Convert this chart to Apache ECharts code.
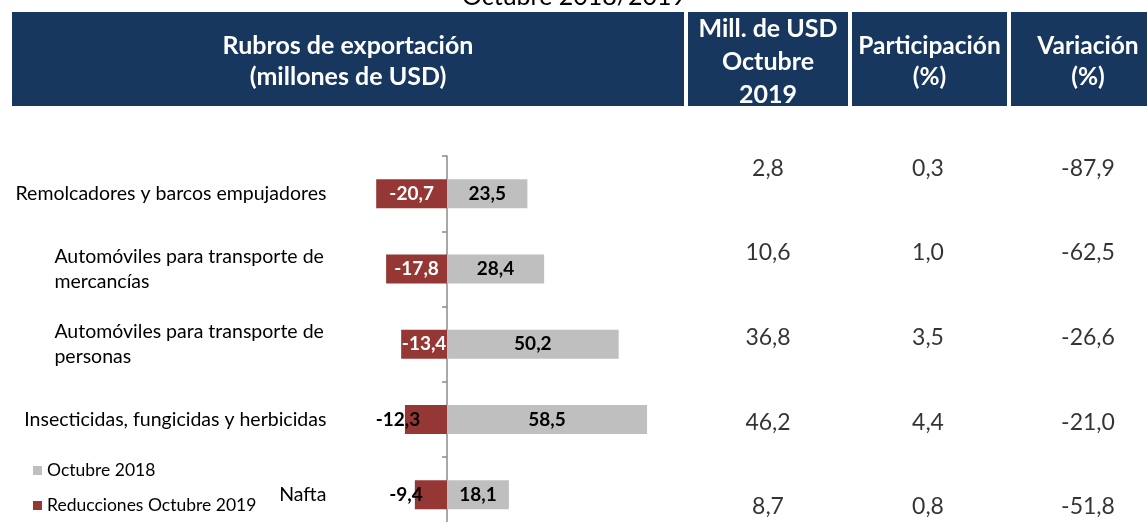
<!DOCTYPE html>
<html><head><meta charset="utf-8">
<script src="https://cdn.jsdelivr.net/npm/echarts@6/dist/echarts.min.js"></script>
<style>html,body{margin:0;padding:0;background:#fff}#c{width:1147px;height:522px}</style>
</head><body><div id="c"></div>
<script>
const titleText = "Octubre 2018/2019";
const headerMain = "Rubros de exportación\n(millones de USD)";
const tableColumns = ["Mill. de USD\nOctubre\n2019", "Participación\n(%)", "Variación\n(%)"];
const categories = [
  "Remolcadores y barcos empujadores",
  "Automóviles para transporte de\nmercancías",
  "Automóviles para transporte de\npersonas",
  "Insecticidas, fungicidas y herbicidas",
  "Nafta"
];
const octubre2018 = [23.5, 28.4, 50.2, 58.5, 18.1];
const reducciones2019 = [-20.7, -17.8, -13.4, -12.3, -9.4];
const usdOct2019 = [2.8, 10.6, 36.8, 46.2, 8.7];
const participacion = [0.3, 1.0, 3.5, 4.4, 0.8];
const variacion = [-87.9, -62.5, -26.6, -21.0, -51.8];
const legendNames = ["Octubre 2018", "Reducciones Octubre 2019"];

const FONT = "Lato, 'Open Sans', sans-serif";
const NAVY = "#17375e";
const RED = "#953735";
const GRAY = "#bfbfbf";
const fmt = v => v.toFixed(1).replace('.', ',');

// styling for red labels that sit outside the short bars
const redLabelStyle = {
  3: { color: '#000', offset: [-28, 0] },
  4: { color: '#000', offset: [-25, 0] }
};

const chart = echarts.init(document.getElementById('c'), null, { renderer: 'canvas' });

const tableColumnsValues = [usdOct2019, participacion, variacion];
const tableData = [];
tableColumnsValues.forEach((arr, c) => arr.forEach((v, r) => tableData.push([c, r, v])));

const headerBoxes = [
  { x: 12, w: 672, text: headerMain, cy: 61, lh: 31, fs: 25 },
  { x: 688, w: 160, text: tableColumns[0], cy: 62, lh: 33, fs: 25 },
  { x: 852, w: 155, text: tableColumns[1], cy: 62, lh: 31, fs: 24.5 },
  { x: 1011, w: 160, text: tableColumns[2], cy: 62, lh: 31, cx: 1088, fs: 24.5 }
];
const graphics = [{
  type: 'text', x: 574, y: -3, z: 1,
  style: { text: titleText, fill: '#000', font: "25px " + FONT, align: 'center', verticalAlign: 'middle' }
}];
headerBoxes.forEach(b => {
  graphics.push({ type: 'rect', z: 2, shape: { x: b.x, y: 12, width: b.w, height: 94 }, style: { fill: NAVY } });
  graphics.push({
    type: 'text', z: 3, x: b.cx || (b.x + b.w / 2), y: b.cy,
    style: { text: b.text, fill: '#fff', font: "bold " + b.fs + "px " + FONT, align: 'center', verticalAlign: 'middle', lineHeight: b.lh }
  });
});

chart.setOption({
  animation: false,
  graphic: graphics,
  legend: {
    data: legendNames, orient: 'vertical', left: 33, top: 461,
    itemWidth: 9, itemHeight: 9, itemGap: 16, padding: 0, icon: 'rect',
    textStyle: { fontSize: 17.5, fontFamily: FONT, color: '#000', lineHeight: 19 }
  },
  grid: [
    { left: 344.4, width: 307.8, top: 156, height: 376.5, outerBoundsMode: 'none', containLabel: false },
    { left: 688, width: 480, top: 126, height: 423, outerBoundsMode: 'none', containLabel: false }
  ],
  xAxis: [
    { type: 'value', gridIndex: 0, min: -30, max: 60, show: false },
    { type: 'category', gridIndex: 1, data: tableColumns, show: false }
  ],
  yAxis: [
    {
      type: 'category', gridIndex: 0, data: categories, inverse: true,
      axisLine: { show: true, onZero: true, lineStyle: { color: '#8c8c8c', width: 1.5 } },
      axisTick: { show: true, length: 5, lineStyle: { color: '#8c8c8c', width: 1.5 } },
      splitLine: { show: false },
      axisLabel: {
        margin: 18, color: '#000', fontSize: 19.5, fontFamily: FONT,
        formatter: v => v.indexOf('\n') >= 0
          ? v.split('\n').map(l => '{m|' + l + '}').join('\n')
          : '{s|' + v + '}',
        rich: {
          m: { width: 272, align: 'left', fontSize: 19.5, fontFamily: FONT, color: '#000', lineHeight: 25 },
          s: { fontSize: 19.5, fontFamily: FONT, color: '#000' }
        }
      }
    },
    { type: 'category', gridIndex: 1, data: categories, inverse: true, show: false }
  ],
  series: [
    {
      name: legendNames[0], type: 'bar', xAxisIndex: 0, yAxisIndex: 0,
      data: octubre2018, barWidth: 29, barGap: '-100%',
      itemStyle: { color: GRAY },
      label: { show: true, position: 'inside', formatter: p => fmt(p.value), color: '#000', fontWeight: 'bold', fontSize: 19, fontFamily: FONT }
    },
    {
      name: legendNames[1], type: 'bar', xAxisIndex: 0, yAxisIndex: 0,
      data: reducciones2019.map((v, i) => redLabelStyle[i]
        ? { value: v, label: { color: redLabelStyle[i].color, offset: redLabelStyle[i].offset } }
        : v),
      barWidth: 29, barGap: '-100%',
      itemStyle: { color: RED },
      label: { show: true, position: 'inside', formatter: p => fmt(p.value), color: '#fff', fontWeight: 'bold', fontSize: 19, fontFamily: FONT }
    },
    {
      name: 'tabla', type: 'scatter', xAxisIndex: 1, yAxisIndex: 1,
      data: tableData, symbolSize: 1, itemStyle: { color: 'rgba(0,0,0,0)' }, silent: true,
      label: { show: true, position: 'inside', formatter: p => fmt(p.value[2]), color: '#000', fontSize: 23, fontFamily: FONT }
    }
  ]
});
</script></body></html>
